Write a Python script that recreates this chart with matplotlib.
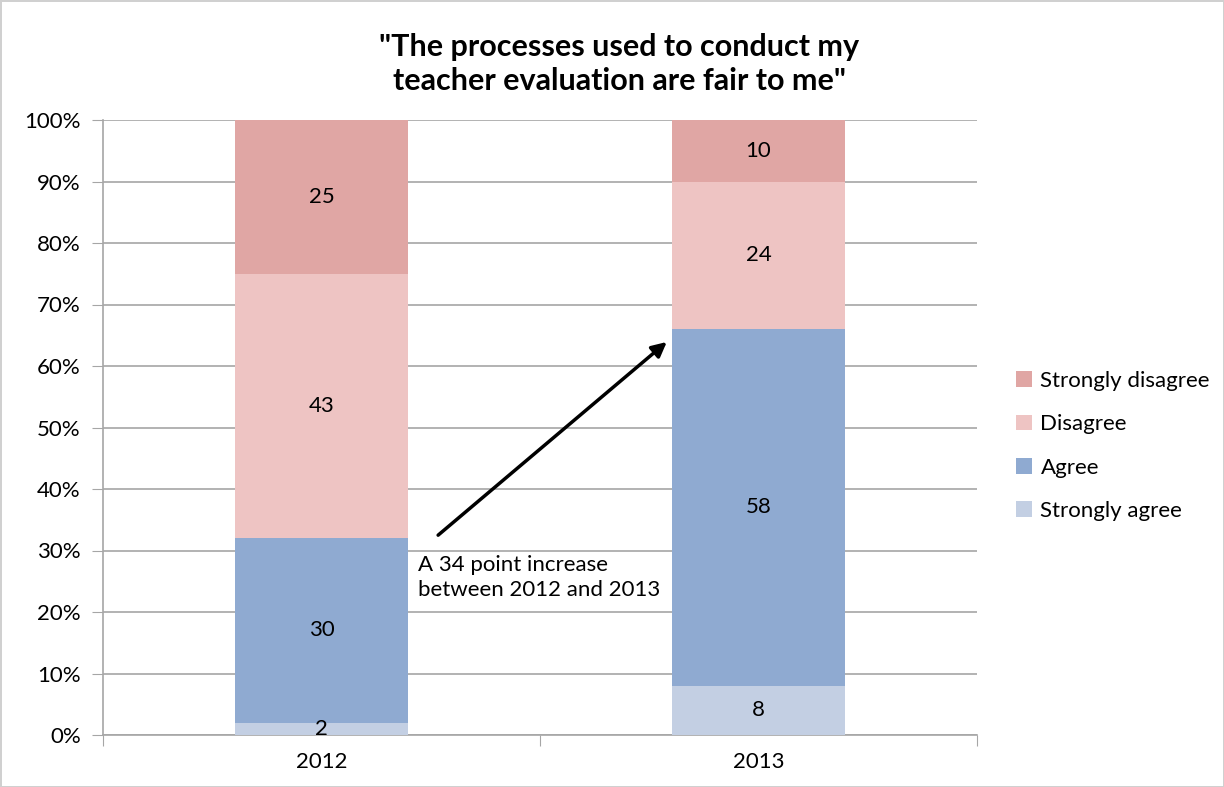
import matplotlib.pyplot as plt
import numpy as np

years = ["2012", "2013"]
categories = ["Strongly agree", "Agree", "Disagree", "Strongly disagree"]
strongly_agree = [2, 8]
agree = [30, 58]
disagree = [43, 24]
strongly_disagree = [25, 10]
colors = ["#C3CFE3", "#8FAAD1", "#EEC4C3", "#E0A6A4"]

plt.rcParams['font.family'] = ['Lato', 'DejaVu Sans']

fig = plt.figure(figsize=(12.24, 7.87), dpi=100)
ax = fig.add_axes([103 / 1224, 1 - 735 / 787, 874 / 1224, 615 / 787])

x = np.arange(len(years))
series = [strongly_agree, agree, disagree, strongly_disagree]
bottom = np.zeros(len(years))
handles = []
for vals, c, name in zip(series, colors, categories):
    b = ax.bar(x, vals, bottom=bottom, width=0.398, color=c, label=name, zorder=3)
    handles.append(b)
    for xi, v, bt in zip(x, vals, bottom):
        ax.text(xi, bt + v / 2, str(v), ha='center', va='center', fontsize=16, color='black', zorder=4)
    bottom += np.array(vals)

ax.set_xlim(-0.5, 1.5)
ax.set_ylim(0, 100)
ax.set_yticks(np.arange(0, 101, 10))
ax.set_yticklabels([f"{v}%" for v in range(0, 101, 10)], fontsize=16)
ax.set_xticks([-0.5, 0.5, 1.5])
ax.set_xticklabels([])
ax.set_xticks(x, minor=True)
ax.set_xticklabels(years, minor=True, fontsize=16)
ax.tick_params(axis='x', which='minor', length=0, pad=12)
ax.tick_params(axis='x', which='major', length=8, color='#A6A6A6', direction='out')
ax.tick_params(axis='y', length=8, color='#A6A6A6', direction='out', pad=8)
ax.grid(axis='y', color='#A6A6A6', linewidth=1.2, zorder=0)
for s in ['top', 'right']:
    ax.spines[s].set_visible(False)
for s in ['left', 'bottom']:
    ax.spines[s].set_color('#A6A6A6')
    ax.spines[s].set_linewidth(1.2)

ax.annotate("", xy=(0.795, 64.2), xytext=(0.262, 32.2),
            arrowprops=dict(arrowstyle='-|>', color='black', lw=2.5, mutation_scale=22), zorder=5)
ax.text(0.22, 29.3, "A 34 point increase\nbetween 2012 and 2013", fontsize=16,
        ha='left', va='top', linespacing=1.35, zorder=5)

fig.text(0.506, 0.919, "\"The processes used to conduct my\nteacher evaluation are fair to me\"",
         ha='center', va='center', fontsize=22, fontweight='bold', linespacing=1.25)

leg = fig.legend(handles[::-1], categories[::-1], loc='center left',
                 bbox_to_anchor=(996 / 1224, 1 - 446 / 787), frameon=False,
                 fontsize=16, handlelength=0.7, handleheight=0.7,
                 handletextpad=0.4, labelspacing=1.05)

fig.patch.set_edgecolor('#D0D0D0')
fig.patch.set_linewidth(2)

fig.savefig("out.png", dpi=100)
